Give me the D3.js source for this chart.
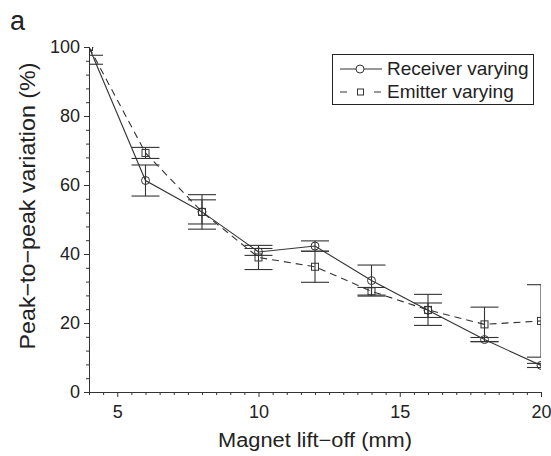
<!DOCTYPE html>
<html>
<head>
<meta charset="utf-8">
<script src="https://cdn.jsdelivr.net/npm/d3@7"></script>
<style>
  body { margin: 0; background: #fff; }
  svg { display: block; font-family: "Liberation Sans", Arial, sans-serif; }
</style>
</head>
<body>
<svg id="chart" width="551" height="456"></svg>
<script>
// ---- data ----
const liftOff = [4, 6, 8, 10, 12, 14, 16, 18, 20];
const receiverValues = [100, 61.3, 52.2, 40.6, 42.3, 32.3, 23.7, 15.2, 7.7];
const receiverErrors = [2.4, 4.5, 5.0, 1.0, 1.5, 4.5, 2.1, 0.6, 0.6];
const emitterValues = [100, 69.3, 52.2, 39.0, 36.3, 29.2, 23.8, 19.6, 20.6];
const emitterErrors = [5.0, 1.6, 3.5, 3.5, 4.5, 1.1, 4.5, 5.0, 10.5];
const xTicks = [5, 10, 15, 20];
const yTicks = [0, 20, 40, 60, 80, 100];
const seriesNames = ["Receiver varying", "Emitter varying"];

(function () {
const svg = d3.select("#chart");
const ink = "#333";
const mLeft = 89, mRight = 541, mTop = 47, mBottom = 392;

const x = d3.scaleLinear().domain([4, 20]).range([mLeft, mRight]);
const y = d3.scaleLinear().domain([0, 100]).range([mBottom, mTop]);

// clip
svg.append("defs").append("clipPath").attr("id", "plotclip")
  .append("rect").attr("x", mLeft).attr("y", mTop)
  .attr("width", mRight - mLeft).attr("height", mBottom - mTop);

// axes: minor ticks
const xMinor = d3.range(4, 20.001, 0.5).filter(v => v % 5 !== 0);
const yMinor = d3.range(0, 100.001, 4).filter(v => v % 20 !== 0);

const gx = svg.append("g").attr("transform", `translate(0,${mBottom})`);
gx.call(d3.axisBottom(x).tickValues(xMinor).tickSize(3).tickFormat("").tickSizeOuter(0));
gx.call(g => g.selectAll(".domain").remove());
const gx2 = svg.append("g").attr("transform", `translate(0,${mBottom})`);
gx2.call(d3.axisBottom(x).tickValues(xTicks).tickSize(5).tickSizeOuter(0).tickPadding(8));
gx2.selectAll("text").attr("font-size", 18).attr("fill", "#222");

const gy = svg.append("g").attr("transform", `translate(${mLeft},0)`);
gy.call(d3.axisLeft(y).tickValues(yMinor).tickSize(3).tickFormat("").tickSizeOuter(0));
gy.call(g => g.selectAll(".domain").remove());
const gy2 = svg.append("g").attr("transform", `translate(${mLeft},0)`);
gy2.call(d3.axisLeft(y).tickValues(yTicks).tickSize(5).tickSizeOuter(0).tickPadding(4));
gy2.selectAll("text").attr("font-size", 18).attr("fill", "#222");

svg.selectAll(".domain, .tick line").attr("stroke", ink).attr("stroke-width", 1);

// axis titles
svg.append("text").attr("x", (mLeft + mRight) / 2).attr("y", 447)
  .attr("text-anchor", "middle").attr("font-size", 20).attr("fill", "#222")
  .attr("textLength", 194).attr("lengthAdjust", "spacingAndGlyphs")
  .text("Magnet lift\u2212off (mm)");
svg.append("text").attr("transform", "translate(35,206) rotate(-90)")
  .attr("text-anchor", "middle").attr("font-size", 22).attr("fill", "#222")
  .attr("textLength", 287).attr("lengthAdjust", "spacingAndGlyphs")
  .text("Peak\u2212to\u2212peak variation (%)");
svg.append("text").attr("x", 10).attr("y", 30).attr("font-size", 27).attr("fill", "#222").text("a");

// plot content
const plot = svg.append("g").attr("clip-path", "url(#plotclip)");
const capHalf = 14;

function drawSeries(values, errors, dashed, marker) {
  const pts = liftOff.map((d, i) => ({ x: d, v: values[i], e: errors[i] }));
  plot.append("path").datum(pts)
    .attr("fill", "none").attr("stroke", ink).attr("stroke-width", 1.1)
    .attr("stroke-dasharray", dashed ? "7,5" : null)
    .attr("d", d3.line().x(p => x(p.x)).y(p => y(p.v)));
  const eb = plot.append("g").selectAll("g").data(pts).join("g");
  eb.append("line").attr("x1", p => x(p.x)).attr("x2", p => x(p.x))
    .attr("y1", p => y(p.v + p.e)).attr("y2", p => y(p.v - p.e));
  eb.append("line").attr("x1", p => x(p.x) - capHalf).attr("x2", p => x(p.x) + capHalf)
    .attr("y1", p => y(p.v + p.e)).attr("y2", p => y(p.v + p.e));
  eb.append("line").attr("x1", p => x(p.x) - capHalf).attr("x2", p => x(p.x) + capHalf)
    .attr("y1", p => y(p.v - p.e)).attr("y2", p => y(p.v - p.e));
  eb.selectAll("line").attr("stroke", ink).attr("stroke-width", 1.1);
  if (marker === "circle") {
    plot.append("g").selectAll("circle").data(pts).join("circle")
      .attr("cx", p => x(p.x)).attr("cy", p => y(p.v)).attr("r", 4)
      .attr("fill", "none").attr("stroke", ink).attr("stroke-width", 1);
  } else {
    plot.append("g").selectAll("rect").data(pts).join("rect")
      .attr("x", p => x(p.x) - 3.5).attr("y", p => y(p.v) - 3.5)
      .attr("width", 7).attr("height", 7)
      .attr("fill", "none").attr("stroke", ink).attr("stroke-width", 1);
  }
}
drawSeries(receiverValues, receiverErrors, false, "circle");
drawSeries(emitterValues, emitterErrors, true, "square");

// legend
const lg = svg.append("g");
lg.append("rect").attr("x", 332.5).attr("y", 54.5).attr("width", 201).attr("height", 50)
  .attr("fill", "#fff").attr("stroke", "#222").attr("stroke-width", 1);
lg.append("line").attr("x1", 340).attr("x2", 382).attr("y1", 69).attr("y2", 69)
  .attr("stroke", ink).attr("stroke-width", 1.1);
lg.append("circle").attr("cx", 360).attr("cy", 69).attr("r", 4)
  .attr("fill", "#fff").attr("stroke", ink);
lg.append("line").attr("x1", 340).attr("x2", 382).attr("y1", 92).attr("y2", 92)
  .attr("stroke", ink).attr("stroke-width", 1.1).attr("stroke-dasharray", "7,10");
lg.append("rect").attr("x", 357.5).attr("y", 89).attr("width", 6).attr("height", 6)
  .attr("fill", "#fff").attr("stroke", ink);
lg.selectAll("text.lab").data(seriesNames).join("text")
  .attr("x", 387).attr("y", (d, i) => 75 + i * 23)
  .attr("font-size", 19).attr("fill", "#222").text(d => d);
})();
</script>
</body>
</html>
